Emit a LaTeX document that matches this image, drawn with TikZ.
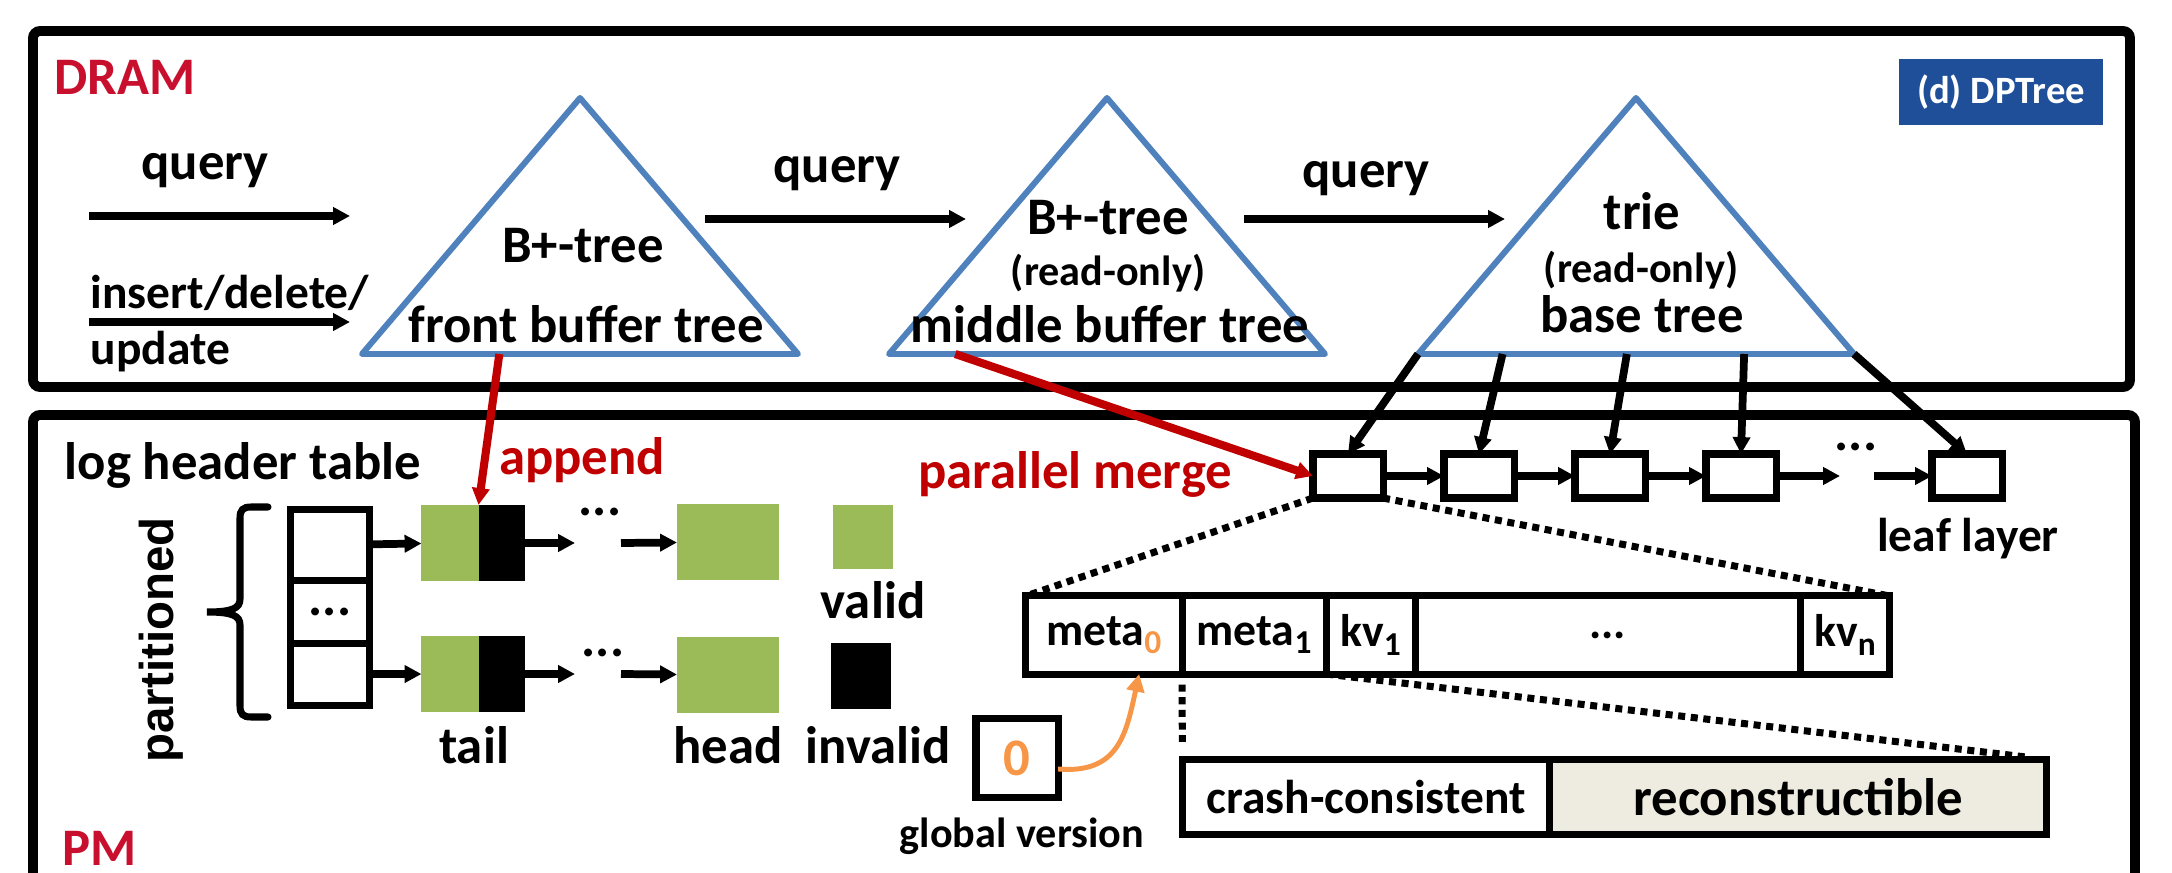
\documentclass[tikz,border=0pt]{standalone}
\usepackage{fontspec}
\setmainfont{Carlito}
\newfontfamily\partfont{Liberation Sans}
\usetikzlibrary{arrows.meta,positioning,calc}

\definecolor{dramred}{RGB}{200,16,46}
\definecolor{arrred}{RGB}{192,0,0}
\definecolor{triblue}{RGB}{79,129,189}
\definecolor{dpblue}{RGB}{31,79,153}
\definecolor{lgreen}{RGB}{155,187,89}
\definecolor{vorange}{RGB}{247,150,70}
\definecolor{beige}{RGB}{238,236,225}

\newcommand\lowsub[1]{\raisebox{-2.3pt}{\fontsize{9.5}{9.5}\selectfont #1}}

\tikzset{
  dframe/.style={line width=2.8pt, rounded corners=2pt},
  tri/.style={draw=triblue, line width=1.7pt, line join=round},
  lbl/.style={font=\fontsize{15}{18}\selectfont\bfseries, inner sep=0pt},
  lblsm/.style={font=\fontsize{13.5}{16}\selectfont\bfseries, inner sep=0pt},
  rolbl/.style={font=\fontsize{12}{14}\selectfont\bfseries, inner sep=0pt},
  arr/.style={line width=2.2pt, -{Triangle[length=4.8pt,width=4.8pt]}},
  redarr/.style={arr, draw=arrred, line width=2.3pt},
  verarr/.style={draw=vorange, line width=1.4pt, -{Triangle[length=5pt,width=5pt]}},
  leafbox/.style={draw, line width=2pt, minimum width=0.70cm, minimum height=0.44cm, inner sep=0pt, outer sep=0pt},
  cellbox/.style={draw, line width=2pt, inner sep=0pt, outer sep=0pt},
  blk/.style={inner sep=0pt, outer sep=0pt},
  rec/.style={cellbox, minimum height=0.78cm, font=\fontsize{13}{15}\selectfont\bfseries},
  zoomline/.style={line width=2pt, dash pattern=on 2pt off 1.6pt},
}

\begin{document}
\begin{tikzpicture}[x=0.01cm, y=-0.01cm]
\useasboundingbox (0,0) rectangle (2172,873);

% the two memory layers
\draw[dframe] (33,31) rectangle (2130,387);
\draw[dframe] (33,415) rectangle (2135,930);
\node[lbl, text=dramred, anchor=base] (dram) at (125,95) {DRAM};
\node[lbl, text=dramred, anchor=base] (pm) at (100,865) {PM};
\node[fill=dpblue, text=white, font=\fontsize{11}{13}\selectfont\bfseries, minimum width=2.03cm, minimum height=0.65cm] (tag) at (2001,92) {(d) DPTree};

% trees in DRAM
\foreach \tn/\cx in {t1/580,t2/1107,t3/1636}{
  \coordinate (\tn top) at (\cx,98);
  \coordinate (\tn l) at (\cx-218,354);
  \coordinate (\tn r) at (\cx+218,354);
  \draw[tri] (\tn top) -- (\tn l) -- (\tn r) -- cycle;
}
\node[lbl, anchor=base] (t1name) at (583,263) {B+-tree};
\node[lbl, anchor=base] (t1lbl) at (586,342) {front buffer tree};
\node[lbl, anchor=base] (t2name) at (1108,235) {B+-tree};
\node[rolbl, anchor=base] (t2ro) at (1108,286) {(read-only)};
\node[lbl, anchor=base] (t2lbl) at (1110,343) {middle buffer tree};
\node[lbl, anchor=base] (t3name) at (1642,230) {trie};
\node[rolbl, anchor=base] (t3ro) at (1641,283) {(read-only)};
\node[lbl, anchor=base] (t3lbl) at (1642,333) {base tree};

% queries and updates
\coordinate (q0s) at (89,216); \coordinate (q0e) at (350,216);
\coordinate (u0s) at (89,322); \coordinate (u0e) at (350,322);
\coordinate (q1s) at (705,219); \coordinate (q1e) at (966,219);
\coordinate (q2s) at (1244,219); \coordinate (q2e) at (1505,219);
\draw[arr] (q0s) -- (q0e);
\draw[arr] (u0s) -- (u0e);
\draw[arr] (q1s) -- (q1e);
\draw[arr] (q2s) -- (q2e);
\node[lbl, anchor=base] (q0) at (205,180) {query};
\node[lbl, anchor=base] (q1) at (837,183) {query};
\node[lbl, anchor=base] (q2) at (1366,188) {query};
\node[lblsm, anchor=base west] (ins) at (90,308) {insert/delete/};
\node[lblsm, anchor=base west] (upd) at (90,364) {update};

% leaf layer
\foreach \i/\x in {1/1348,2/1479,3/1610,4/1741,5/1967}
  \node[leafbox] (leaf\i) at (\x,476) {};
\foreach \i/\j in {1/2,2/3,3/4}
  \draw[arr] (leaf\i) -- (leaf\j);
\coordinate (lgap1) at (1840,476); \coordinate (lgap2) at (1874,476);
\draw[arr] (leaf4) -- (lgap1);
\draw[arr] (lgap2) -- (leaf5);
\node[lbl, anchor=base] (ldots) at (1856,450) {...};
\node[lblsm, anchor=base] (leaflbl) at (1968,551) {leaf layer};
\foreach \fr/\i in {0/1,0.194/2,0.479/3,0.748/4,1/5}
  \draw[arr] ($(t3l)!\fr!(t3r)$) -- (leaf\i.north);

% log header table
\node[lbl, anchor=base west] (loghdr) at (64,479) {log header table};
\node[font=\partfont\fontsize{13.5}{16}\selectfont\bfseries, rotate=90, inner sep=0pt] (part) at (161,640) {partitioned};
\draw[line width=2pt, line cap=round] (268,507) -- (251,507) .. controls (243,507) and (240,510) .. (240,518) -- (240,599)
  .. controls (240,608) and (233,612) .. (207,612) .. controls (233,612) and (240,616) .. (240,625)
  -- (240,706) .. controls (240,714) and (243,717) .. (251,717) -- (268,717);
\node[cellbox, minimum width=0.79cm, minimum height=0.70cm] (hd1) at (330,545) {};
\node[cellbox, lbl, minimum width=0.79cm, minimum height=0.63cm, below=0pt of hd1] (hd2) {...};
\node[cellbox, minimum width=0.79cm, minimum height=0.62cm, below=0pt of hd2] (hd3) {};

% log chains
\node[blk, fill=lgreen, minimum width=0.57cm, minimum height=0.76cm] (g1) at (450,543) {};
\node[blk, fill=black, minimum width=0.46cm, minimum height=0.76cm, right=0pt of g1] (k1) {};
\node[blk, fill=lgreen, minimum width=0.57cm, minimum height=0.76cm] (g2) at (450,674) {};
\node[blk, fill=black, minimum width=0.46cm, minimum height=0.76cm, right=0pt of g2] (k2) {};
\node[blk, fill=lgreen, minimum width=1.02cm, minimum height=0.75cm] (h1) at (728,542) {};
\node[blk, fill=lgreen, minimum width=1.02cm, minimum height=0.75cm] (h2) at (728,675) {};
\node[blk, fill=lgreen, minimum width=0.59cm, minimum height=0.64cm] (valid) at (863,537) {};
\node[blk, fill=black, minimum width=0.60cm, minimum height=0.65cm] (invalid) at (861,676) {};
\coordinate (dgap1) at (575,543); \coordinate (dgap2) at (621,543);
\coordinate (dgap3) at (575,674); \coordinate (dgap4) at (621,674);
\draw[arr] (hd1) -- (g1);
\draw[arr] (hd3) -- (g2);
\draw[arr] (k1) -- (dgap1);
\draw[arr] (dgap2) -- (h1);
\draw[arr] (k2) -- (dgap3);
\draw[arr] (dgap4) -- (h2);
\node[lbl, anchor=base] (dots1) at (600,515) {...};
\node[lbl, anchor=base] (dots2) at (603,656) {...};
\node[lbl, anchor=base] (taillbl) at (474,763) {tail};
\node[lbl, anchor=base] (headlbl) at (728,763) {head};
\node[lbl, anchor=base] (validlbl) at (873,618) {valid};
\node[lbl, anchor=base] (invalidlbl) at (878,763) {invalid};

% red arrows
\node[lbl, text=arrred, anchor=base] (appendlbl) at (582,475) {append};
\node[lbl, text=arrred, anchor=base] (mergelbl) at (1075,488) {parallel merge};
\draw[redarr] ($(t1l)!0.315!(t1r)$) -- (g1.north east);
\draw[redarr] ($(t2l)!0.152!(t2r)$) -- (leaf1.west);

% leaf node layout
\node[rec, minimum width=1.56cm] (m0) at (1104,635) {meta\lowsub{\color{vorange}0}};
\node[rec, minimum width=1.44cm, right=0pt of m0] (m1) {meta\lowsub{1}};
\node[rec, minimum width=0.89cm, right=0pt of m1] (kv1) {kv\lowsub{1}};
\node[rec, minimum width=3.85cm, right=0pt of kv1] (kvdots) {...};
\node[rec, minimum width=0.89cm, right=0pt of kvdots] (kvn) {kv\lowsub{n}};
\node[cellbox, lblsm, minimum width=3.67cm, minimum height=0.75cm] (crash) at (1366,797) {crash-consistent};
\node[cellbox, lbl, fill=beige, minimum width=4.97cm, minimum height=0.75cm, right=0pt of crash] (recon) {reconstructible};
\draw[zoomline] (leaf1.south west) -- (m0.north west);
\draw[zoomline] (leaf1.south east) -- (kvn.north east);
\draw[zoomline, shorten <=3pt, shorten >=5pt] (m0.south east) -- (crash.north west);
\draw[zoomline, shorten >=5pt] (m1.south east) -- (recon.north east);

% global version
\node[cellbox, lbl, text=vorange, minimum width=0.82cm, minimum height=0.78cm] (gv) at (1017,758) {0};
\node[rolbl, anchor=base] (gvlbl) at (1022,847) {global version};
\coordinate (m0tip) at ($(m0.south)!0.45!(m0.south east)$);
\draw[verarr] (gv.-15) .. controls (1118,774) and (1126,735) .. (m0tip);
\end{tikzpicture}
\end{document}
